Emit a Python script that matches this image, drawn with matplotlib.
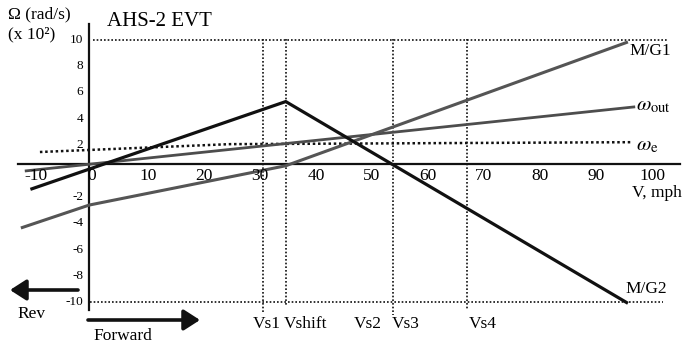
import matplotlib
matplotlib.use("Agg")
import matplotlib.pyplot as plt
from matplotlib.patches import FancyArrowPatch

plt.rcParams['font.family'] = ['Liberation Serif', 'DejaVu Serif']
plt.rcParams['mathtext.fontset'] = 'stix'

# ---- data (V in mph, Omega in rad/s x 10^2) ----
x_ticks = [-10, 0, 10, 20, 30, 40, 50, 60, 70, 80, 90, 100]
y_ticks = [10, 8, 6, 4, 2, -2, -4, -6, -8, -10]

mg2_v = [-11.0, 34.6, 95.7]
mg2_w = [-1.4, 5.3, -10.1]

mg1_v = [-12.7, -0.5, 34.6, 95.7]
mg1_w = [-4.35, -2.6, 0.4, 9.85]

wout_v = [-12.0, 97.0]
wout_w = [0.0, 4.9]

we_v = [-9.3, 24.6, 96.6]
we_w = [1.45, 2.05, 2.2]

shift_names = ['Vs1', 'Vshift', 'Vs3', 'Vs4']
shift_v = [30.5, 34.6, 53.75, 67.0]
shift_bottom = [-10.8, -10.2, -11.0, -10.6]

# ---- pixel helpers for annotation placement ----
def X(px):
    return (px - 92) / 5.6

def Y(py):
    return (171 - py) / 13.1

fig = plt.figure(figsize=(6.82, 3.45), dpi=100)
ax = fig.add_axes([0, 0, 1, 1])
ax.set_xlim(X(0), X(682))
ax.set_ylim(Y(345), Y(0))
ax.axis('off')

# grid-like dotted lines
dot = (0, (1, 1.2))
ax.plot([X(93), X(667)], [10, 10], color='#111', lw=1.2, ls=dot)
ax.plot([X(90), X(663)], [-10, -10], color='#111', lw=1.2, ls=dot)
for v, b in zip(shift_v, shift_bottom):
    ax.plot([v, v], [10.1, b], color='#111', lw=1.2, ls=dot)

# axes lines
ax.plot([X(18), X(680)], [Y(164), Y(164)], color='#111', lw=1.6)
ax.plot([X(89), X(89)], [Y(24), Y(310)], color='#111', lw=1.6)

# curves
ax.plot(we_v, we_w, color='#111', lw=1.8, ls=(0, (1, 1.1)))
ax.plot(wout_v, wout_w, color='#4d4d4d', lw=2.0, solid_capstyle='butt')
ax.plot(mg1_v, mg1_w, color='#555555', lw=2.2, solid_capstyle='butt')
ax.plot(mg2_v, mg2_w, color='#111111', lw=2.3, solid_capstyle='butt')

# tick labels
for t in x_ticks:
    ax.text(t, Y(176), str(t), ha='center', va='center', fontsize=12.5)
for t in y_ticks:
    ax.text(X(83), t, str(t), ha='right', va='center', fontsize=9.5)

# shift labels
lab_px = {'Vs1': 267, 'Vshift': 306, 'Vs2': 368, 'Vs3': 406, 'Vs4': 483}
for name in ['Vs1', 'Vshift', 'Vs2', 'Vs3', 'Vs4']:
    ax.text(X(lab_px[name]), Y(324), name, ha='center', va='center', fontsize=12.5)

# titles / labels
ax.text(X(107), Y(22), 'AHS-2 EVT', ha='left', va='center', fontsize=15)
ax.text(X(8), Y(14), 'Ω (rad/s)', ha='left', va='center', fontsize=12.5)
ax.text(X(8), Y(34), '(x 10²)', ha='left', va='center', fontsize=12.5)
ax.text(X(632), Y(193), 'V, mph', ha='left', va='center', fontsize=12.5)
ax.text(X(629), Y(51), 'M/G1', ha='left', va='center', fontsize=12.5)
ax.text(X(625), Y(289), 'M/G2', ha='left', va='center', fontsize=12.5)
ax.text(X(636), Y(106), r'$\omega_{\mathrm{out}}$', ha='left', va='center', fontsize=15)
ax.text(X(636), Y(146), r'$\omega_{\mathrm{e}}$', ha='left', va='center', fontsize=15)
ax.text(X(17), Y(314), 'Rev', ha='left', va='center', fontsize=12.5)
ax.text(X(93), Y(336), 'Forward', ha='left', va='center', fontsize=12.5)

# direction arrows
style = '-|>,head_length=0.7,head_width=0.45'
ax.add_patch(FancyArrowPatch((X(78), Y(290)), (X(10), Y(290)), arrowstyle=style,
                             mutation_scale=14, lw=2.6, color='#111', shrinkA=0, shrinkB=0))
ax.add_patch(FancyArrowPatch((X(88), Y(320)), (X(200), Y(320)), arrowstyle=style,
                             mutation_scale=14, lw=2.6, color='#111', shrinkA=0, shrinkB=0))

fig.savefig('out.png', dpi=100)
